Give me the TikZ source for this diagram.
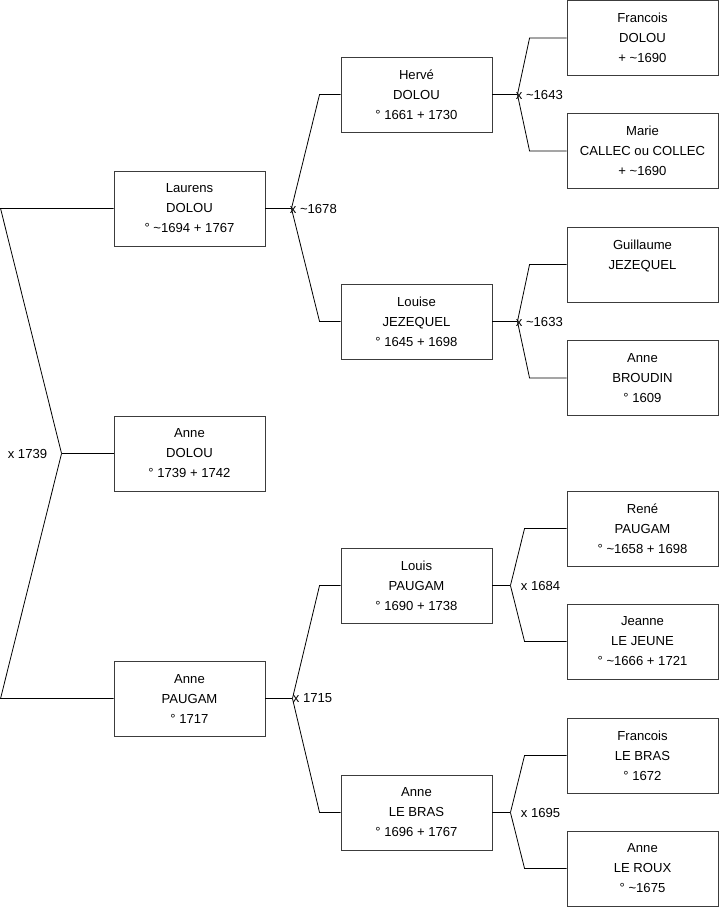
\documentclass[tikz,border=0pt]{standalone}
\usepackage{fontspec}
\setmainfont{Liberation Sans}
\usepackage{tikz}
\definecolor{boxgray}{HTML}{3C3C3C}

\begin{document}
\begin{tikzpicture}[x=1pt,y=-1pt,line width=0.8pt,
 person/.style={draw=boxgray,line width=0.9pt,fill=white,minimum width=151pt,minimum height=75pt,
  inner sep=0pt,align=center,font=\fontsize{13.1}{20}\selectfont},
 union/.style={font=\fontsize{13.1}{15}\selectfont,inner sep=0pt}]
 \useasboundingbox (0,0) rectangle (719,908);
 \foreach \n/\x/\y/\t in {
  laurens/189.5/208.5/{Laurens\\DOLOU\\° \textasciitilde1694 + 1767},
  anned/189.5/453.5/{Anne\\DOLOU\\° 1739 + 1742},
  annep/189.5/698.5/{Anne\\PAUGAM\\° 1717},
  herve/416.5/94.5/{Hervé\\DOLOU\\° 1661 + 1730},
  louise/416.5/321.5/{Louise\\JEZEQUEL\\° 1645 + 1698},
  louis/416.5/585.5/{Louis\\PAUGAM\\° 1690 + 1738},
  annelb/416.5/812.5/{Anne\\LE BRAS\\° 1696 + 1767},
  francoisd/642.5/38/{Francois\\DOLOU\\+ \textasciitilde1690},
  marie/642.5/151/{Marie\\CALLEC ou COLLEC\\+ \textasciitilde1690},
  guillaume/642.5/264.5/{Guillaume\\JEZEQUEL\\\phantom{0}},
  anneb/642.5/378/{Anne\\BROUDIN\\° 1609},
  rene/642.5/528.5/{René\\PAUGAM\\° \textasciitilde1658 + 1698},
  jeanne/642.5/641.5/{Jeanne\\LE JEUNE\\° \textasciitilde1666 + 1721},
  francoislb/642.5/755.5/{Francois\\LE BRAS\\° 1672},
  annelr/642.5/868.5/{Anne\\LE ROUX\\° \textasciitilde1675}}
  \node[person] (\n) at (\x,\y) {\t};
 \foreach \c/\f/\m/\o/\d/\lx/\l in {
  laurens/herve/louise/26/21/-2/{x \textasciitilde1678},
  herve/francoisd/marie/25/37/-2/{x \textasciitilde1643},
  louise/guillaume/anneb/25/37/-2/{x \textasciitilde1633},
  annep/louis/annelb/27/21/0/{x 1715},
  louis/rene/jeanne/18/42/10/{x 1684},
  annelb/francoislb/annelr/18/42/10/{x 1695}} {
  \draw (\c.east) -- ++(\o,0) coordinate (v\c);
  \draw (\f.west) -- +(-\d,0) -- (v\c);
  \draw (\m.west) -- +(-\d,0) -- (v\c);
  \node[union,anchor=west] (u\c) at ([xshift=\lx pt]v\c) {\l};}
 \draw (anned.west) -- ++(-52,0) coordinate (vanned);
 \draw (laurens.west) -- +(-113,0) -- (vanned);
 \draw (annep.west) -- +(-113,0) -- (vanned);
 \node[union,anchor=east] (uanned) at ([xshift=-14pt]vanned) {x 1739};
\end{tikzpicture}
\end{document}
